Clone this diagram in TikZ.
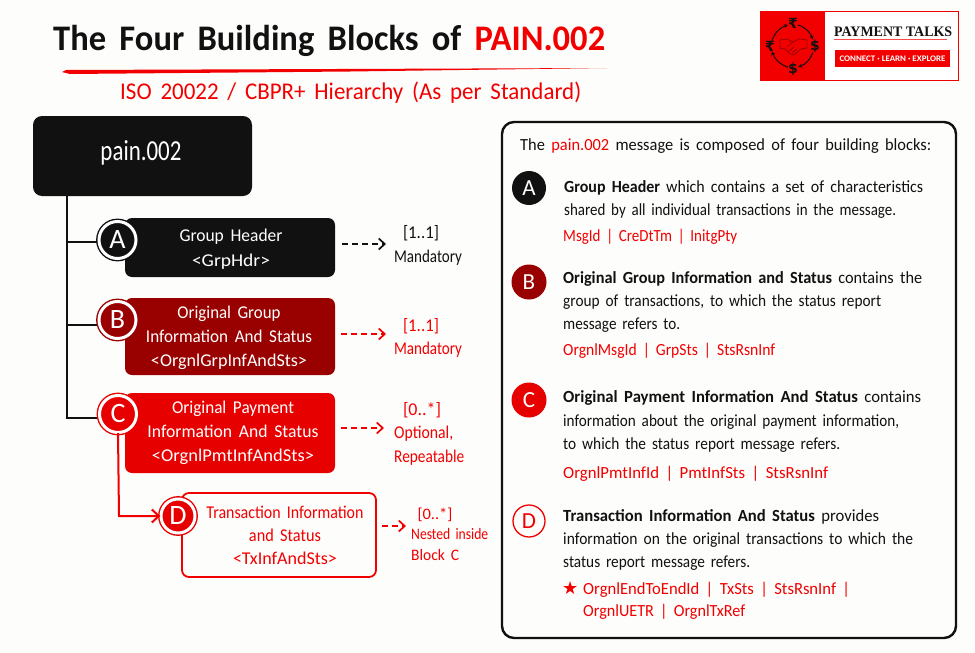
\documentclass[tikz,border=0pt]{standalone}
\usepackage{fontspec}
\usepackage{graphicx}
\usetikzlibrary{arrows.meta}
\setmainfont[WordSpace=1.7]{Carlito}
\newfontfamily\serifl{Liberation Serif}
\newfontfamily\dejavu{DejaVu Sans}
\newfontfamily\plain{Carlito}
\definecolor{pred}{HTML}{F20000}
\definecolor{dred}{HTML}{990000}
\definecolor{cred}{HTML}{E60000}
\definecolor{ink}{HTML}{111111}
\definecolor{paper}{HTML}{FDFDFC}
\newcommand{\F}[2]{\resizebox{#1pt}{\height}{#2}}
\newcommand{\fs}[2]{\fontsize{#1}{#2}\selectfont}
\tikzset{
  txt/.style={anchor=base west,inner sep=0pt,text=ink,font=\fs{17}{20}},
  rtxt/.style={txt,text=pred},
  lab/.style={anchor=base,inner sep=0pt,text=ink,font=\fs{18}{20}},
  rlab/.style={lab,text=pred},
  blockbox/.style={rounded corners=7pt,inner sep=0pt},
  blocktext/.style={inner sep=0pt,align=center,text=white,font=\fs{18}{24}},
  ring/.style={circle,inner sep=0pt,minimum size=37pt,draw=#1,fill=#1,line width=1.4pt,double=white,double distance=3pt,text=white,font=\fs{28}{28}},
  dot/.style={circle,inner sep=0pt,minimum size=#1,text=white,font=\fs{23}{23}},
  conn/.style={line width=1.8pt,draw=ink},
  dasharrow/.style={line width=1.7pt,dash pattern=on 6pt off 4pt,-{Straight Barb[length=6pt,width=11pt,line width=1.7pt]}},
  cyc/.style={line width=1pt,draw=ink,-{Stealth[length=4pt,width=4pt]}},
  cur/.style={inner sep=0pt,text=ink,font=\dejavu\bfseries\fs{14}{14}},
}
\begin{document}
\begin{tikzpicture}[x=1pt,y=-1pt]
\useasboundingbox (0,0) rectangle (975,653);
\fill[paper] (0,0) rectangle (975,653);

% title
\node[txt,font=\bfseries\fs{36}{36}] (title) at (53,50) {\F{552}{The Four Building Blocks of \textcolor{pred}{PAIN.002}}};
\coordinate (ulA) at (62,72);
\coordinate (ulB) at (607,68);
\fill[pred] (ulA) -- ++(4,-2) -- (ulB) -- (350,71.5) -- ++(-280,2.5) -- cycle;
\node[rtxt,font=\fs{24}{24}] (subtitle) at (120,99) {\F{461}{ISO 20022 / CBPR+ Hierarchy (As per Standard)}};

% logo
\node[draw=pred,line width=0.8pt,fill=white,minimum width=198pt,minimum height=69pt,inner sep=0pt] (logo) at (859.5,45.5) {};
\node[fill=pred,minimum width=65pt,minimum height=69pt,inner sep=0pt] (logopanel) at (792.5,45.5) {};
\node[cur] (rupA) at (793,23) {₹};
\node[cur] (dolA) at (815,46) {\$};
\node[cur] (dolB) at (793,69) {\$};
\node[cur] (rupB) at (770,46) {₹};
\draw[cyc] (rupA) to[bend left=25] (dolA);
\draw[cyc] (dolA) to[bend left=25] (dolB);
\draw[cyc] (dolB) to[bend left=25] (rupB);
\draw[cyc] (rupB) to[bend left=25] (rupA);
\begin{scope}[line width=0.8pt,line join=round]
\draw[dred] (780,40) -- (787,39) -- (793,42) -- (799,39) -- (807,40) -- (807,48) -- (801,49) -- (794,55) -- (790,54) -- (785,49) -- (780,48) -- cycle;
\draw[dred] (787,47) -- (793,42) (789,51) -- (794,47) (792,53) -- (797,49);
\end{scope}
\node[anchor=base west,inner sep=0pt,text=ink,font=\serifl\bfseries\fs{14.5}{15}] (brand) at (834,36) {\F{118}{PAYMENT TALKS}};
\coordinate (brandL) at (834,39.5);
\coordinate (brandR) at (947,39.5);
\draw[pred!70,line width=0.6pt] (brandL) -- (brandR);
\node[fill=pred,text=white,inner sep=0pt,minimum width=115pt,minimum height=17pt,font=\plain\bfseries\fs{8.5}{9}] (tag) at (892.5,58.5) {\F{106}{CONNECT · LEARN · EXPLORE}};

% root
\node[fill=ink,rounded corners=9pt,minimum width=219pt,minimum height=80pt,inner sep=0pt] (root) at (142.5,156) {};
\node[inner sep=0pt,text=white,font=\fs{29}{29}] (rootlabel) at (141,153) {\F{81}{pain.002}};

% tree connectors
\coordinate (trunkTop) at (67,196);
\coordinate (trunkEnd) at (67,418);
\coordinate (jA) at (67,242);
\coordinate (jB) at (67,325);
\draw[conn] (trunkTop) -- (trunkEnd) -- (97,418);
\draw[conn] (jA) -- (97,242);
\draw[conn] (jB) -- (97,325);

% blocks
\node[blockbox,fill=ink,minimum width=210pt,minimum height=59pt] (boxA) at (230,247.5) {};
\node[blocktext] (tA) at (231,249.5) {\F{103}{Group Header}\\[1pt]\F{78}{<GrpHdr>}};
\node[blockbox,fill=dred,minimum width=210pt,minimum height=77pt] (boxB) at (230,336.5) {};
\node[blocktext] (tB) at (229,337.5) {\F{103}{Original Group}\\\F{166}{Information And Status}\\\F{156}{<OrgnlGrpInfAndSts>}};
\node[blockbox,fill=cred,minimum width=210pt,minimum height=80pt] (boxC) at (230,433) {};
\node[blocktext] (tC) at (233,432.5) {\F{122}{Original Payment}\\\F{171}{Information And Status}\\\F{162}{<OrgnlPmtInfAndSts>}};
\node[blockbox,fill=paper,draw=pred,line width=1.8pt,minimum width=194pt,minimum height=84pt] (boxD) at (279,535) {};
\node[blocktext,text=pred,font=\fs{18}{23}] (tD) at (285,535.5) {\F{157}{Transaction Information}\\\F{72}{and Status}\\\F{104}{<TxInfAndSts>}};

\coordinate (cDrop) at (119,516);
\node[ring=ink] (cA) at (117.5,240) {A};
\node[ring=dred] (cB) at (117.5,320) {B};
\node[ring=cred] (cC) at (118,414) {C};
\node[ring=cred,minimum size=34pt] (cD) at (178,516) {D};
\draw[line width=2pt,draw=pred,-{Straight Barb[length=7pt,width=13pt,line width=2pt]}] (cC.south) -- (cDrop) -- (cD.west);

% cardinality
\coordinate (aS) at (342,244);\coordinate (aE) at (386,244);
\coordinate (bS) at (341,334);\coordinate (bE) at (386,334);
\coordinate (cS) at (341,428);\coordinate (cE) at (384,428);
\coordinate (dS) at (382,526);\coordinate (dE) at (406,526);
\draw[dasharrow,draw=ink] (aS) -- (aE);
\draw[dasharrow,draw=pred] (bS) -- (bE);
\draw[dasharrow,draw=pred] (cS) -- (cE);
\draw[dasharrow,draw=pred] (dS) -- (dE);
\node[lab] (lA1) at (421,238) {\F{36}{[1..1]}};
\node[lab] (lA2) at (428,262) {\F{68}{Mandatory}};
\node[rlab] (lB1) at (421,331) {\F{36}{[1..1]}};
\node[rlab] (lB2) at (428,354) {\F{68}{Mandatory}};
\node[rlab] (lC1) at (422,415) {\F{38}{[0..*]}};
\node[rlab,anchor=base west] (lC2) at (394,438) {\F{59}{Optional,}};
\node[rlab,anchor=base west] (lC3) at (394,462) {\F{70}{Repeatable}};
\node[rlab,font=\fs{16}{20}] (lD1) at (435,519) {\F{35}{[0..*]}};
\node[rlab,anchor=base west,font=\fs{16}{20}] (lD2) at (411,539) {\F{77}{Nested inside}};
\node[rlab,anchor=base west,font=\fs{16}{20}] (lD3) at (411,560) {\F{48}{Block C}};

% panel
\node[draw=ink,line width=2.4pt,fill=paper,rounded corners=12pt,minimum width=454pt,minimum height=516pt,inner sep=0pt] (panel) at (729,380) {};
\node[txt] (intro) at (520,150) {\F{411}{The \textcolor{pred}{pain.002} message is composed of four building blocks:}};

\node[dot=34pt,fill=ink] (dA) at (529,188) {A};
\node[dot=35pt,fill=dred] (dB) at (529,282) {B};
\node[dot=35pt,fill=cred] (dC) at (529,400) {C};
\node[dot=32pt,fill=paper,draw=pred,line width=1.3pt,text=pred] (dD) at (529,521) {D};

\node[txt] (a1) at (564,192) {\F{359}{\textbf{Group Header} which contains a set of characteristics}};
\node[txt] (a2) at (564,215) {\F{332}{shared by all individual transactions in the message.}};
\node[rtxt] (a3) at (563,241) {\F{174}{MsgId | CreDtTm | InitgPty}};

\node[txt] (b1) at (563,283) {\F{359}{\textbf{Original Group Information and Status} contains the}};
\node[txt] (b2) at (563,306) {\F{318}{group of transactions, to which the status report}};
\node[txt] (b3) at (563,329) {\F{117}{message refers to.}};
\node[rtxt] (b4) at (563,355) {\F{212}{OrgnlMsgId | GrpSts | StsRsnInf}};

\node[txt] (c1) at (563,402) {\F{358}{\textbf{Original Payment Information And Status} contains}};
\node[txt] (c2) at (563,426) {\F{336}{information about the original payment information,}};
\node[txt] (c3) at (563,449) {\F{277}{to which the status report message refers.}};
\node[rtxt] (c4) at (563,478) {\F{265}{OrgnlPmtInfId | PmtInfSts | StsRsnInf}};

\node[txt] (d1) at (563,521) {\F{316}{\textbf{Transaction Information And Status} provides}};
\node[txt] (d2) at (563,544) {\F{350}{information on the original transactions to which the}};
\node[txt] (d3) at (563,567) {\F{187}{status report message refers.}};
\node[rtxt,font=\dejavu\fs{18}{18}] (star) at (562,594) {★};
\node[rtxt] (d4) at (583,594) {\F{267}{OrgnlEndToEndId | TxSts | StsRsnInf |}};
\node[rtxt] (d5) at (583,616) {\F{162}{OrgnlUETR | OrgnlTxRef}};
\end{tikzpicture}
\end{document}
